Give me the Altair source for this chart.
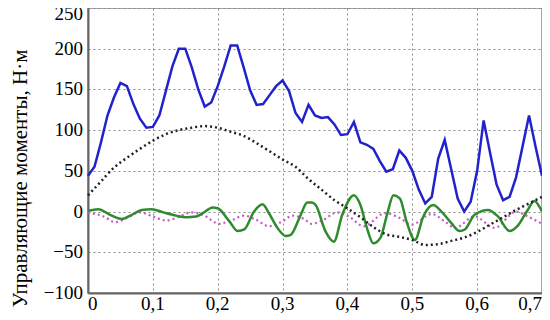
import altair as alt
import pandas as pd

# Blue solid curve
blue_t = [0.00, 0.01, 0.02, 0.03, 0.04, 0.05, 0.06, 0.07, 0.08, 0.09,
          0.10, 0.11, 0.12, 0.13, 0.14, 0.15, 0.16, 0.17, 0.18, 0.19,
          0.20, 0.21, 0.22, 0.23, 0.24, 0.25, 0.26, 0.27, 0.28, 0.29,
          0.30, 0.31, 0.32, 0.33, 0.34, 0.35, 0.36, 0.37, 0.38, 0.39,
          0.40, 0.41, 0.42, 0.43, 0.44, 0.45, 0.46, 0.47, 0.48, 0.49,
          0.50, 0.51, 0.52, 0.53, 0.54, 0.55, 0.56, 0.57, 0.58, 0.59,
          0.60, 0.61, 0.62, 0.63, 0.64, 0.65, 0.66, 0.67, 0.68, 0.69, 0.70]
blue_v = [44, 55, 85, 118, 140, 158, 154, 132, 114, 103,
          104, 118, 148, 178, 200, 200, 177, 150, 129, 134,
          154, 178, 204, 204, 177, 149, 131, 132, 143, 154,
          161, 148, 121, 110, 131, 118, 115, 116, 107, 94,
          95, 110, 85, 82, 77, 62, 49, 52, 75, 66,
          50, 27, 10, 18, 65, 88, 52, 16, 0, 12,
          50, 112, 72, 33, 14, 18, 42, 80, 118, 80, 44]

# Black dotted curve
black_t = [0.00, 0.02, 0.04, 0.06, 0.08, 0.10, 0.12, 0.14, 0.16, 0.18,
           0.20, 0.22, 0.24, 0.26, 0.28, 0.30, 0.32, 0.34, 0.36, 0.38,
           0.40, 0.42, 0.44, 0.46, 0.48, 0.50, 0.52, 0.54, 0.56, 0.58,
           0.60, 0.62, 0.64, 0.66, 0.68, 0.70]
black_v = [20, 37, 54, 66, 77, 87, 95, 100, 103, 105,
           103, 98, 93, 84, 74, 64, 55, 40, 27, 14,
           4, -7, -19, -28, -31, -35, -41, -40, -36, -32,
           -25, -16, -7, 2, 10, 18]

# Green solid curve
green_t = [0.000, 0.016, 0.034, 0.052, 0.065, 0.083, 0.098, 0.116, 0.136, 0.151,
           0.167, 0.177, 0.192, 0.200, 0.218, 0.231, 0.241, 0.256, 0.269, 0.279,
           0.292, 0.305, 0.312, 0.328, 0.338, 0.345, 0.351, 0.366, 0.379, 0.392,
           0.410, 0.420, 0.430, 0.440, 0.451, 0.461, 0.471, 0.481, 0.491, 0.504,
           0.517, 0.532, 0.545, 0.560, 0.573, 0.581, 0.596, 0.617, 0.632, 0.650,
           0.662, 0.678, 0.688, 0.700]
green_v = [1, 3, -4, -9, -5, 2, 3, -1, -5, -7,
           -6, -2, 5, 4, -12, -24, -22, 0, 9, -2,
           -20, -30, -29, -4, 11, 11, 8, -24, -37, -4,
           20, 8, -20, -39, -32, -4, 20, 16, -12, -35,
           -6, 8, 0, -14, -24, -22, -4, 2, -6, -24,
           -18, 2, 13, 0]

# Magenta dotted curve
mag_t = [0.000, 0.024, 0.042, 0.060, 0.080, 0.100, 0.121, 0.141, 0.159, 0.177,
         0.203, 0.223, 0.241, 0.259, 0.279, 0.300, 0.315, 0.333, 0.345, 0.361,
         0.384, 0.402, 0.425, 0.458, 0.481, 0.499, 0.530, 0.550, 0.566, 0.596,
         0.627, 0.660, 0.678, 0.700]
mag_v = [-1, -6, -13, -8, -1, -6, -11, -6, -1, -4,
         -15, -10, -5, -10, -18, -12, -5, -9, -15, -11,
         -1, -6, -18, -2, -8, -16, -3, -12, -20, -6,
         -20, 0, -6, -15]

x_ticks = [0, 0.1, 0.2, 0.3, 0.4, 0.5, 0.6, 0.7]
x_labels = ["0", "0,1", "0,2", "0,3", "0,4", "0,5", "0,6", "0,7"]
y_ticks = [-100, -50, 0, 50, 100, 150, 200, 250]
y_labels = ["\u2212100", "\u221250", "0", "50", "100", "150", "200", "250"]
y_title = "Управляющие моменты, Н·м"

FONT = "Liberation Serif"
W, H = 454, 285

xs = alt.Scale(domain=[0, 0.7], nice=False, zero=False)
ys = alt.Scale(domain=[-100, 250], nice=False, zero=False)

x_axis = alt.Axis(
    values=x_ticks, title=None, grid=True, gridColor="#8a8a8a", gridDash=[2, 3],
    gridWidth=1, ticks=False, labels=False, domain=True, domainColor="#666666",
    domainWidth=2,
)
y_axis = alt.Axis(
    values=y_ticks, title=y_title, grid=True, gridColor="#8a8a8a", gridDash=[2, 3],
    gridWidth=1, ticks=False, labels=False, domain=True, domainColor="#666666",
    domainWidth=2,
    titleFont=FONT, titleFontSize=21, titleFontWeight="normal", titleColor="black",
    titleX=-62, titleY=170, titleBaseline="alphabetic",
)

def df(t, v):
    return pd.DataFrame({"t": t, "v": v})

magenta = alt.Chart(df(mag_t, mag_v)).mark_line(
    color="#c85ac8", strokeWidth=2.2, strokeDash=[2, 3], interpolate="monotone"
).encode(x=alt.X("t:Q", scale=xs, axis=x_axis), y=alt.Y("v:Q", scale=ys, axis=y_axis))

green = alt.Chart(df(green_t, green_v)).mark_line(
    color="#2e8b2e", strokeWidth=2.5, interpolate="monotone"
).encode(x=alt.X("t:Q", scale=xs), y=alt.Y("v:Q", scale=ys))

black = alt.Chart(df(black_t, black_v)).mark_line(
    color="#222222", strokeWidth=2.5, strokeDash=[2, 3], interpolate="monotone"
).encode(x=alt.X("t:Q", scale=xs), y=alt.Y("v:Q", scale=ys))

blue = alt.Chart(df(blue_t, blue_v)).mark_line(
    color="#2222cc", strokeWidth=2.5, interpolate="linear"
).encode(x=alt.X("t:Q", scale=xs), y=alt.Y("v:Q", scale=ys))

# Tick labels as serif text placed through the same scales
xl = pd.DataFrame({"t": x_ticks, "lab": x_labels})
yl = pd.DataFrame({"v": y_ticks, "lab": y_labels})

def xlab(d, align):
    return alt.Chart(d).mark_text(
        font=FONT, fontSize=19, color="black", align=align, baseline="top"
    ).encode(x=alt.X("t:Q", scale=xs), y=alt.value(H + 2), text="lab:N")

xlab_first = xlab(xl.iloc[:1], "left")
xlab_mid = xlab(xl.iloc[1:-1], "center")
xlab_last = xlab(xl.iloc[-1:], "right")

ylab_main = alt.Chart(yl.iloc[:-1]).mark_text(
    font=FONT, fontSize=19, color="black", align="right", baseline="middle"
).encode(x=alt.value(-5), y=alt.Y("v:Q", scale=ys), text="lab:N")

ylab_top = alt.Chart(yl.iloc[-1:]).mark_text(
    font=FONT, fontSize=19, color="black", align="right", baseline="middle", dy=6
).encode(x=alt.value(-5), y=alt.Y("v:Q", scale=ys), text="lab:N")

chart = alt.layer(
    magenta, green, black, blue, xlab_first, xlab_mid, xlab_last, ylab_main, ylab_top
).properties(
    width=W, height=H,
    autosize=alt.AutoSizeParams(type="none"),
    padding={"left": 80, "top": 0, "right": 0, "bottom": 27},
    background="white",
).configure(font=FONT).configure_view(stroke="#888888", strokeWidth=1.5)

chart.save("out.html", embed_options={"renderer": "svg", "actions": False})
